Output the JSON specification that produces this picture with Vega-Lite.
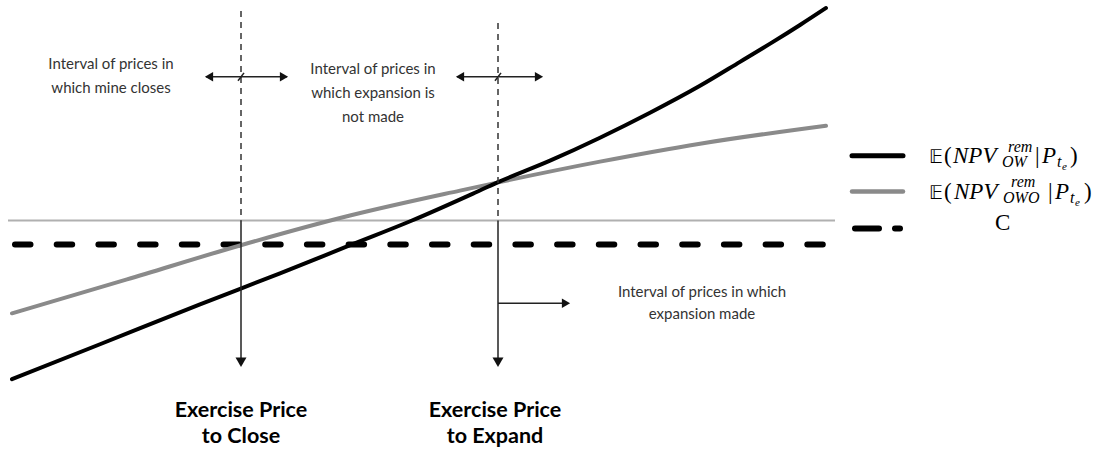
{
  "$schema": "https://vega.github.io/schema/vega-lite/v6.json",
  "width": 1102,
  "height": 457,
  "autosize": {"type": "fit", "contains": "padding"},
  "padding": 0,
  "background": "white",
  "config": {"view": {"stroke": null}},
  "datasets": {
    "curves": [
      {"series": "OW", "x": 12, "y": 379}, {"series": "OW", "x": 100, "y": 344}, {"series": "OW", "x": 200, "y": 304},
      {"series": "OW", "x": 280, "y": 273}, {"series": "OW", "x": 352, "y": 244}, {"series": "OW", "x": 412, "y": 220},
      {"series": "OW", "x": 473, "y": 193}, {"series": "OW", "x": 497, "y": 182}, {"series": "OW", "x": 550, "y": 160},
      {"series": "OW", "x": 600, "y": 137}, {"series": "OW", "x": 650, "y": 112}, {"series": "OW", "x": 700, "y": 85},
      {"series": "OW", "x": 740, "y": 61}, {"series": "OW", "x": 773, "y": 41}, {"series": "OW", "x": 800, "y": 24},
      {"series": "OW", "x": 826, "y": 7},
      {"series": "OWO", "x": 12, "y": 313}, {"series": "OWO", "x": 127, "y": 279}, {"series": "OWO", "x": 240, "y": 245},
      {"series": "OWO", "x": 350, "y": 215}, {"series": "OWO", "x": 460, "y": 190}, {"series": "OWO", "x": 497, "y": 182},
      {"series": "OWO", "x": 600, "y": 161}, {"series": "OWO", "x": 700, "y": 143}, {"series": "OWO", "x": 826, "y": 125}
    ],
    "rules": [
      {"kind": "level", "x": 8, "x2": 835, "y": 220, "y2": 220},
      {"kind": "cost", "x": 15, "x2": 823, "y": 244, "y2": 244},
      {"kind": "vdash", "x": 241, "x2": 241, "y": 10, "y2": 220},
      {"kind": "vdash", "x": 498, "x2": 498, "y": 22, "y2": 220},
      {"kind": "arrow", "x": 241, "x2": 241, "y": 220, "y2": 360},
      {"kind": "arrow", "x": 498, "x2": 498, "y": 220, "y2": 360},
      {"kind": "arrow", "x": 206, "x2": 287, "y": 76, "y2": 76},
      {"kind": "arrow", "x": 457, "x2": 541, "y": 76, "y2": 76},
      {"kind": "arrow", "x": 498, "x2": 564, "y": 303, "y2": 303},
      {"kind": "arrow", "x": 238, "x2": 244, "y": 80, "y2": 72},
      {"kind": "arrow", "x": 495, "x2": 501, "y": 80, "y2": 72},
      {"kind": "legOW", "x": 852, "x2": 903, "y": 155, "y2": 155},
      {"kind": "legOWO", "x": 852, "x2": 903, "y": 191, "y2": 191},
      {"kind": "legC", "x": 855, "x2": 900, "y": 228, "y2": 228}
    ],
    "heads": [
      {"dir": "down", "x": 241, "y": 362},
      {"dir": "down", "x": 498, "y": 362},
      {"dir": "left", "x": 209, "y": 76},
      {"dir": "left", "x": 460, "y": 76},
      {"dir": "right", "x": 284, "y": 76},
      {"dir": "right", "x": 539, "y": 76},
      {"dir": "right", "x": 566, "y": 303}
    ],
    "notes": [
      {"group": "small", "text": "Interval of prices in", "x": 111, "y": 68},
      {"group": "small", "text": "which mine closes", "x": 111, "y": 92},
      {"group": "small", "text": "Interval of prices in", "x": 373, "y": 73},
      {"group": "small", "text": "which expansion is", "x": 373, "y": 97},
      {"group": "small", "text": "not made", "x": 373, "y": 121},
      {"group": "small", "text": "Interval of prices in which", "x": 702, "y": 297},
      {"group": "small", "text": "expansion made", "x": 702, "y": 319},
      {"group": "bold", "text": "Exercise Price", "x": 241, "y": 417},
      {"group": "bold", "text": "to Close", "x": 241, "y": 443},
      {"group": "bold", "text": "Exercise Price", "x": 495, "y": 417},
      {"group": "bold", "text": "to Expand", "x": 495, "y": 443}
    ],
    "math": [
      {"style": "bb", "text": "𝔼", "x": 929, "y": 162},
      {"style": "upright", "text": "(", "x": 944, "y": 162},
      {"style": "italic", "text": "NPV", "x": 953, "y": 162},
      {"style": "sup", "text": "rem", "x": 1008, "y": 151},
      {"style": "sup", "text": "OW", "x": 1002, "y": 166},
      {"style": "upright", "text": "|", "x": 1035, "y": 162},
      {"style": "italic", "text": "P", "x": 1042, "y": 162},
      {"style": "sup", "text": "t", "x": 1057, "y": 166},
      {"style": "tiny", "text": "e", "x": 1062, "y": 169},
      {"style": "upright", "text": ")", "x": 1070, "y": 162},
      {"style": "bb", "text": "𝔼", "x": 929, "y": 198},
      {"style": "upright", "text": "(", "x": 944, "y": 198},
      {"style": "italic", "text": "NPV", "x": 954, "y": 198},
      {"style": "sup", "text": "rem", "x": 1011, "y": 186},
      {"style": "sup", "text": "OWO", "x": 1003, "y": 202},
      {"style": "upright", "text": "|", "x": 1048, "y": 198},
      {"style": "italic", "text": "P", "x": 1055, "y": 198},
      {"style": "sup", "text": "t", "x": 1070, "y": 202},
      {"style": "tiny", "text": "e", "x": 1075, "y": 205},
      {"style": "upright", "text": ")", "x": 1084, "y": 198},
      {"style": "upright", "text": "C", "x": 995, "y": 230}
    ]
  },
  "encoding": {
    "x": {"field": "x", "type": "quantitative", "scale": {"domain": [0, 1102], "nice": false, "zero": false}, "axis": null},
    "y": {"field": "y", "type": "quantitative", "scale": {"domain": [0, 457], "reverse": true, "nice": false, "zero": false}, "axis": null}
  },
  "layer": [
    {
      "data": {"name": "rules"},
      "transform": [{"filter": "datum.kind === 'level'"}],
      "mark": {"type": "rule", "color": "#b0b0b0", "strokeWidth": 2},
      "encoding": {"x2": {"field": "x2"}, "y2": {"field": "y2"}}
    },
    {
      "data": {"name": "rules"},
      "transform": [{"filter": "datum.kind === 'cost'"}],
      "mark": {"type": "rule", "color": "#000000", "strokeWidth": 6, "strokeDash": [15.5, 26.2], "strokeCap": "round"},
      "encoding": {"x2": {"field": "x2"}, "y2": {"field": "y2"}}
    },
    {
      "data": {"name": "curves"},
      "transform": [{"filter": "datum.series === 'OWO'"}],
      "mark": {"type": "line", "color": "#8a8a8a", "strokeWidth": 4, "strokeCap": "round", "interpolate": "monotone"},
      "encoding": {"order": {"field": "x"}}
    },
    {
      "data": {"name": "curves"},
      "transform": [{"filter": "datum.series === 'OW'"}],
      "mark": {"type": "line", "color": "#000000", "strokeWidth": 4, "strokeCap": "round", "interpolate": "monotone"},
      "encoding": {"order": {"field": "x"}}
    },
    {
      "data": {"name": "rules"},
      "transform": [{"filter": "datum.kind === 'vdash'"}],
      "mark": {"type": "rule", "color": "#333333", "strokeWidth": 1.5, "strokeDash": [6, 5]},
      "encoding": {"x2": {"field": "x2"}, "y2": {"field": "y2"}}
    },
    {
      "data": {"name": "rules"},
      "transform": [{"filter": "datum.kind === 'arrow'"}],
      "mark": {"type": "rule", "color": "#222222", "strokeWidth": 1.5},
      "encoding": {"x2": {"field": "x2"}, "y2": {"field": "y2"}}
    },
    {
      "data": {"name": "heads"},
      "transform": [{"filter": "datum.dir === 'down'"}],
      "mark": {"type": "point", "shape": "triangle-down", "filled": true, "color": "#111111", "size": 120, "opacity": 1}
    },
    {
      "data": {"name": "heads"},
      "transform": [{"filter": "datum.dir === 'left'"}],
      "mark": {"type": "point", "shape": "triangle-left", "filled": true, "color": "#111111", "size": 90, "opacity": 1}
    },
    {
      "data": {"name": "heads"},
      "transform": [{"filter": "datum.dir === 'right'"}],
      "mark": {"type": "point", "shape": "triangle-right", "filled": true, "color": "#111111", "size": 90, "opacity": 1}
    },
    {
      "data": {"name": "rules"},
      "transform": [{"filter": "datum.kind === 'legOW'"}],
      "mark": {"type": "rule", "color": "#000000", "strokeWidth": 5, "strokeCap": "round"},
      "encoding": {"x2": {"field": "x2"}, "y2": {"field": "y2"}}
    },
    {
      "data": {"name": "rules"},
      "transform": [{"filter": "datum.kind === 'legOWO'"}],
      "mark": {"type": "rule", "color": "#8a8a8a", "strokeWidth": 4.5, "strokeCap": "round"},
      "encoding": {"x2": {"field": "x2"}, "y2": {"field": "y2"}}
    },
    {
      "data": {"name": "rules"},
      "transform": [{"filter": "datum.kind === 'legC'"}],
      "mark": {"type": "rule", "color": "#000000", "strokeWidth": 6, "strokeDash": [24, 16], "strokeCap": "round"},
      "encoding": {"x2": {"field": "x2"}, "y2": {"field": "y2"}}
    },
    {
      "data": {"name": "notes"},
      "transform": [{"filter": "datum.group === 'small'"}],
      "mark": {"type": "text", "font": "Lato", "fontSize": 15, "color": "#333333", "align": "center", "baseline": "alphabetic"},
      "encoding": {"text": {"field": "text"}}
    },
    {
      "data": {"name": "notes"},
      "transform": [{"filter": "datum.group === 'bold'"}],
      "mark": {"type": "text", "font": "Lato", "fontSize": 21.5, "fontWeight": "bold", "color": "#000000", "align": "center", "baseline": "alphabetic"},
      "encoding": {"text": {"field": "text"}}
    },
    {
      "data": {"name": "math"},
      "transform": [{"filter": "datum.style === 'bb'"}],
      "mark": {"type": "text", "font": "Liberation Serif", "fontSize": 19, "color": "#000000", "align": "left", "baseline": "alphabetic"},
      "encoding": {"text": {"field": "text"}}
    },
    {
      "data": {"name": "math"},
      "transform": [{"filter": "datum.style === 'upright'"}],
      "mark": {"type": "text", "font": "Liberation Serif", "fontSize": 23, "color": "#000000", "align": "left", "baseline": "alphabetic"},
      "encoding": {"text": {"field": "text"}}
    },
    {
      "data": {"name": "math"},
      "transform": [{"filter": "datum.style === 'italic'"}],
      "mark": {"type": "text", "font": "Liberation Serif", "fontStyle": "italic", "fontSize": 23, "color": "#000000", "align": "left", "baseline": "alphabetic"},
      "encoding": {"text": {"field": "text"}}
    },
    {
      "data": {"name": "math"},
      "transform": [{"filter": "datum.style === 'sup'"}],
      "mark": {"type": "text", "font": "Liberation Serif", "fontStyle": "italic", "fontSize": 16, "color": "#000000", "align": "left", "baseline": "alphabetic"},
      "encoding": {"text": {"field": "text"}}
    },
    {
      "data": {"name": "math"},
      "transform": [{"filter": "datum.style === 'tiny'"}],
      "mark": {"type": "text", "font": "Liberation Serif", "fontStyle": "italic", "fontSize": 11, "color": "#000000", "align": "left", "baseline": "alphabetic"},
      "encoding": {"text": {"field": "text"}}
    }
  ]
}
